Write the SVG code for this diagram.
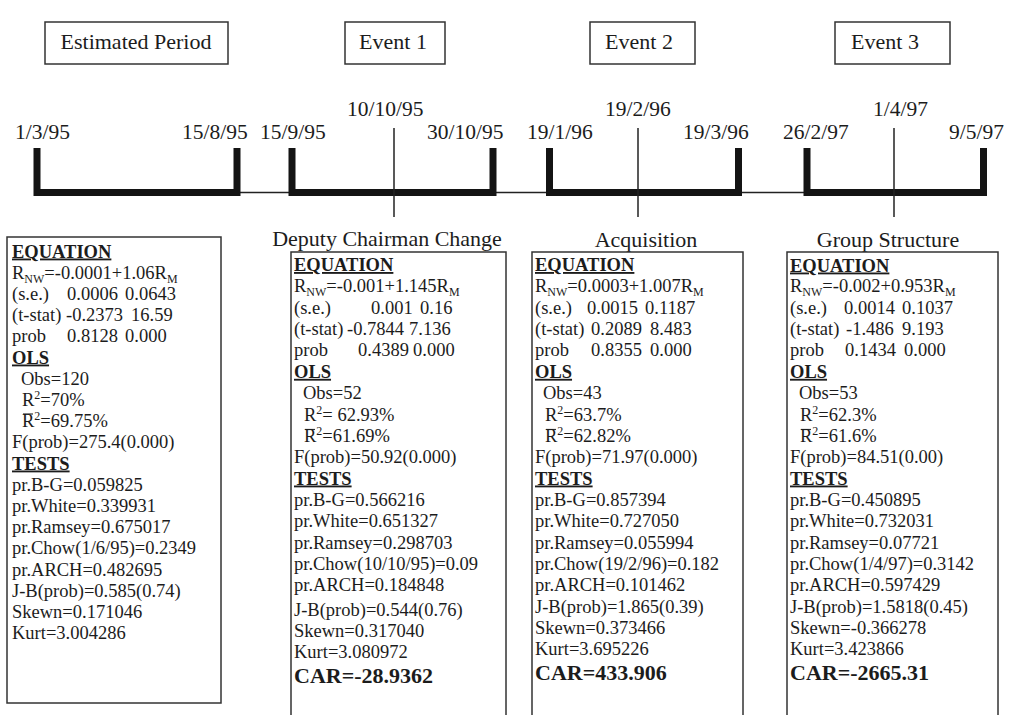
<svg xmlns="http://www.w3.org/2000/svg" width="1011" height="715" viewBox="0 0 1011 715">
<style>
text { font-family: "Liberation Serif", "Times New Roman", serif; fill: #1c1c1c; }
.t { font-size: 18.5px; }
.h { font-size: 18.5px; font-weight: bold; text-decoration: underline; }
.car { font-size: 22px; font-weight: bold; }
.lbl { font-size: 22px; text-anchor: middle; }
.date { font-size: 21.5px; }
.ttl { font-size: 22px; text-anchor: middle; }
.sub { font-size: 12px; }
.box { fill: none; stroke: #333; stroke-width: 1.5; }
.bar { stroke: #333; stroke-width: 1.2; }
.thick { fill: none; stroke: #141414; stroke-width: 7; stroke-linejoin: miter; stroke-linecap: butt; }
.thin { fill: none; stroke: #222; stroke-width: 1.5; }
</style>
<rect width="1011" height="715" fill="#ffffff"/>

<g id="label-estimated">
<rect class="box" x="45" y="22" width="183" height="42"/>
<text class="lbl" x="136" y="49">Estimated Period</text>
</g>
<g id="label-event1">
<rect class="box" x="345" y="22" width="100" height="42"/>
<text class="lbl" x="393" y="49">Event 1</text>
</g>
<g id="label-event2">
<rect class="box" x="590" y="22" width="105" height="42"/>
<text class="lbl" x="639" y="49">Event 2</text>
</g>
<g id="label-event3">
<rect class="box" x="835" y="22" width="115" height="42"/>
<text class="lbl" x="885" y="49">Event 3</text>
</g>

<g id="dates">
<text class="date" x="15" y="139">1/3/95</text>
<text class="date" x="182" y="139">15/8/95</text>
<text class="date" x="260" y="139">15/9/95</text>
<text class="date" x="347" y="116">10/10/95</text>
<text class="date" x="427" y="139">30/10/95</text>
<text class="date" x="527" y="139">19/1/96</text>
<text class="date" x="605" y="116">19/2/96</text>
<text class="date" x="683" y="139">19/3/96</text>
<text class="date" x="783" y="139">26/2/97</text>
<text class="date" x="873" y="116">1/4/97</text>
<text class="date" x="949" y="139">9/5/97</text>
</g>

<g id="connectors">
<line class="thin" x1="37" y1="192.5" x2="983" y2="192.5"/>
<path class="thick" d="M37,148 V192.5 H237 V148"/>
<path class="thick" d="M292,148 V192.5 H493 V148"/>
<path class="thick" d="M549.5,148 V192.5 H738.5 V148"/>
<path class="thick" d="M807,148 V192.5 H983.5 V148"/>
<line class="thin" x1="394" y1="128" x2="394" y2="217"/>
<line class="thin" x1="638" y1="128" x2="638" y2="217"/>
<line class="thin" x1="894" y1="128" x2="894" y2="217"/>
</g>

<g id="box-estimated">
<rect class="box" x="7" y="237" width="214" height="466"/>
<text class="h" x="12" y="257.5">EQUATION</text>
<text class="t" x="12" y="278.7">R<tspan class="sub" dy="4">NW</tspan><tspan dy="-4">=-0.0001+1.06R</tspan><tspan class="sub" dy="4">M</tspan></text>
<text class="t" y="299.9"><tspan x="12">(s.e.)</tspan><tspan x="67">0.0006</tspan><tspan x="125">0.0643</tspan></text>
<text class="t" y="321.1"><tspan x="12">(t-stat)</tspan><tspan x="66">-0.2373</tspan><tspan x="131">16.59</tspan></text>
<text class="t" y="342.3"><tspan x="12">prob</tspan><tspan x="67">0.8128</tspan><tspan x="125">0.000</tspan></text>
<text class="h" x="12" y="363.5">OLS</text>
<text class="t" x="21" y="384.7">Obs=120</text>
<text class="t" x="22" y="405.9">R<tspan class="sub" dy="-7">2</tspan><tspan dy="7">=70%</tspan></text>
<line class="bar" x1="23" y1="414" x2="33" y2="414"/>
<text class="t" x="22" y="427.1">R<tspan class="sub" dy="-7">2</tspan><tspan dy="7">=69.75%</tspan></text>
<text class="t" x="12" y="448.3">F(prob)=275.4(0.000)</text>
<text class="h" x="12" y="469.5">TESTS</text>
<text class="t" x="12" y="490.7">pr.B-G=0.059825</text>
<text class="t" x="12" y="511.9">pr.White=0.339931</text>
<text class="t" x="12" y="533.1">pr.Ramsey=0.675017</text>
<text class="t" x="12" y="554.3">pr.Chow(1/6/95)=0.2349</text>
<text class="t" x="12" y="575.5">pr.ARCH=0.482695</text>
<text class="t" x="12" y="596.7">J-B(prob)=0.585(0.74)</text>
<text class="t" x="12" y="617.9">Skewn=0.171046</text>
<text class="t" x="12" y="639.1">Kurt=3.004286</text>
</g>

<g id="box-event1">
<text class="ttl" x="387" y="246">Deputy Chairman Change</text>
<rect class="box" x="291" y="252" width="215" height="480"/>
<text class="h" x="294" y="271">EQUATION</text>
<text class="t" x="294" y="292.4">R<tspan class="sub" dy="4">NW</tspan><tspan dy="-4">=-0.001+1.145R</tspan><tspan class="sub" dy="4">M</tspan></text>
<text class="t" y="313.7"><tspan x="294">(s.e.)</tspan><tspan x="371">0.001</tspan><tspan x="420">0.16</tspan></text>
<text class="t" y="335.1"><tspan x="294">(t-stat)</tspan><tspan x="347">-0.7844</tspan><tspan x="409">7.136</tspan></text>
<text class="t" y="356.4"><tspan x="294">prob</tspan><tspan x="358">0.4389</tspan><tspan x="413">0.000</tspan></text>
<text class="h" x="294" y="377.8">OLS</text>
<text class="t" x="303" y="399.1">Obs=52</text>
<text class="t" x="304" y="420.5">R<tspan class="sub" dy="-7">2</tspan><tspan dy="7">= 62.93%</tspan></text>
<line class="bar" x1="305" y1="429.5" x2="315" y2="429.5"/>
<text class="t" x="304" y="441.8">R<tspan class="sub" dy="-7">2</tspan><tspan dy="7">=61.69%</tspan></text>
<text class="t" x="294" y="463.2">F(prob)=50.92(0.000)</text>
<text class="h" x="294" y="484.5">TESTS</text>
<text class="t" x="294" y="505.9">pr.B-G=0.566216</text>
<text class="t" x="294" y="527.2">pr.White=0.651327</text>
<text class="t" x="294" y="548.6">pr.Ramsey=0.298703</text>
<text class="t" x="294" y="569.9">pr.Chow(10/10/95)=0.09</text>
<text class="t" x="294" y="591.3">pr.ARCH=0.184848</text>
<text class="t" x="294" y="615.6">J-B(prob)=0.544(0.76)</text>
<text class="t" x="294" y="637">Skewn=0.317040</text>
<text class="t" x="294" y="658.3">Kurt=3.080972</text>
<text class="car" x="294" y="683">CAR=-28.9362</text>
</g>

<g id="box-event2">
<text class="ttl" x="646" y="247">Acquisition</text>
<rect class="box" x="532" y="252" width="211" height="480"/>
<text class="h" x="535" y="271">EQUATION</text>
<text class="t" x="535" y="292.4">R<tspan class="sub" dy="4">NW</tspan><tspan dy="-4">=0.0003+1.007R</tspan><tspan class="sub" dy="4">M</tspan></text>
<text class="t" y="313.7"><tspan x="535">(s.e.)</tspan><tspan x="587">0.0015</tspan><tspan x="645">0.1187</tspan></text>
<text class="t" y="335.1"><tspan x="535">(t-stat)</tspan><tspan x="591">0.2089</tspan><tspan x="650">8.483</tspan></text>
<text class="t" y="356.4"><tspan x="535">prob</tspan><tspan x="591">0.8355</tspan><tspan x="650">0.000</tspan></text>
<text class="h" x="535" y="377.8">OLS</text>
<text class="t" x="543" y="399.1">Obs=43</text>
<text class="t" x="545" y="420.5">R<tspan class="sub" dy="-7">2</tspan><tspan dy="7">=63.7%</tspan></text>
<line class="bar" x1="546" y1="429.5" x2="556" y2="429.5"/>
<text class="t" x="545" y="441.8">R<tspan class="sub" dy="-7">2</tspan><tspan dy="7">=62.82%</tspan></text>
<text class="t" x="535" y="463.2">F(prob)=71.97(0.000)</text>
<text class="h" x="535" y="484.5">TESTS</text>
<text class="t" x="535" y="505.9">pr.B-G=0.857394</text>
<text class="t" x="535" y="527.2">pr.White=0.727050</text>
<text class="t" x="535" y="548.6">pr.Ramsey=0.055994</text>
<text class="t" x="535" y="569.9">pr.Chow(19/2/96)=0.182</text>
<text class="t" x="535" y="591.3">pr.ARCH=0.101462</text>
<text class="t" x="535" y="612.6">J-B(prob)=1.865(0.39)</text>
<text class="t" x="535" y="634">Skewn=0.373466</text>
<text class="t" x="535" y="655.3">Kurt=3.695226</text>
<text class="car" x="535" y="680">CAR=433.906</text>
</g>

<g id="box-event3">
<text class="ttl" x="888" y="247">Group Structure</text>
<rect class="box" x="787" y="252" width="211" height="480"/>
<text class="h" x="790" y="271.5">EQUATION</text>
<text class="t" x="790" y="292.4">R<tspan class="sub" dy="4">NW</tspan><tspan dy="-4">=-0.002+0.953R</tspan><tspan class="sub" dy="4">M</tspan></text>
<text class="t" y="313.7"><tspan x="790">(s.e.)</tspan><tspan x="844">0.0014</tspan><tspan x="902">0.1037</tspan></text>
<text class="t" y="335.1"><tspan x="790">(t-stat)</tspan><tspan x="846">-1.486</tspan><tspan x="902">9.193</tspan></text>
<text class="t" y="356.4"><tspan x="790">prob</tspan><tspan x="845">0.1434</tspan><tspan x="904">0.000</tspan></text>
<text class="h" x="790" y="377.8">OLS</text>
<text class="t" x="799" y="399.1">Obs=53</text>
<text class="t" x="800" y="420.5">R<tspan class="sub" dy="-7">2</tspan><tspan dy="7">=62.3%</tspan></text>
<line class="bar" x1="801" y1="429.5" x2="811" y2="429.5"/>
<text class="t" x="800" y="441.8">R<tspan class="sub" dy="-7">2</tspan><tspan dy="7">=61.6%</tspan></text>
<text class="t" x="790" y="463.2">F(prob)=84.51(0.00)</text>
<text class="h" x="790" y="484.5">TESTS</text>
<text class="t" x="790" y="505.9">pr.B-G=0.450895</text>
<text class="t" x="790" y="527.2">pr.White=0.732031</text>
<text class="t" x="790" y="548.6">pr.Ramsey=0.07721</text>
<text class="t" x="790" y="569.9">pr.Chow(1/4/97)=0.3142</text>
<text class="t" x="790" y="591.3">pr.ARCH=0.597429</text>
<text class="t" x="790" y="612.6">J-B(prob)=1.5818(0.45)</text>
<text class="t" x="790" y="634">Skewn=-0.366278</text>
<text class="t" x="790" y="655.3">Kurt=3.423866</text>
<text class="car" x="790" y="680">CAR=-2665.31</text>
</g>
</svg>
